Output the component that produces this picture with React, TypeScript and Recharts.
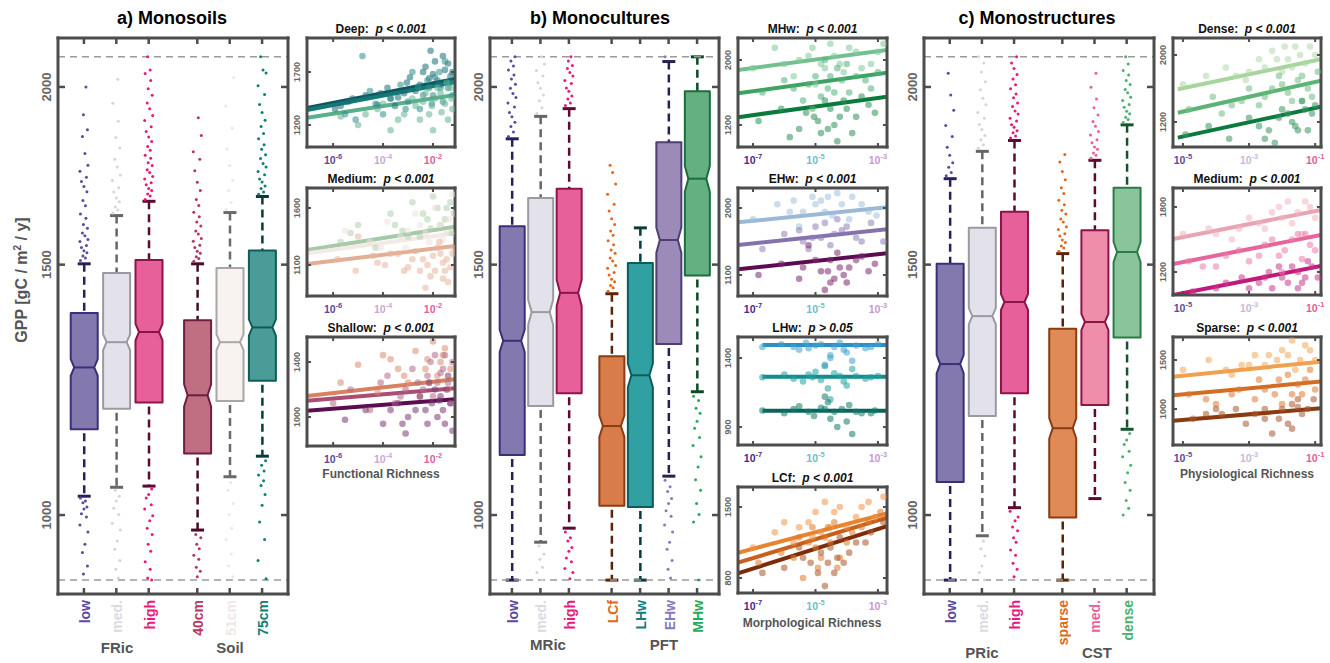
import React from "react";
import { ComposedChart, Bar, Scatter, Line, XAxis, YAxis, ReferenceLine } from "recharts";

const FONT = "'Liberation Sans', Arial, Helvetica, sans-serif";
const FRAME = "#4d4d4d";
const TXT = "#555";
const PAGE_W = 1330;
const PAGE_H = 663;
const PLOT_TOP = 38;
const PLOT_BOTTOM = 594;
const GPP_DOMAIN: [number, number] = [880, 2165];
const GPP_TICKS = [1000, 1500, 2000];
const CUTOFFS = [900, 2100];
const SLOTS = [1, 2, 3, 4.5, 5.5, 6.5, 7.5];
const JITTER = [-3.5, 1.5, -1, 3, 0, -2.5, 2.5, -4, 4, 1, -1.5, 3.5, -0.5, 2];

// ---------- a) Monosoils ----------
const soilCats = ["low", "med.", "high", "40cm", "51cm", "75cm"];
const soilWhiskerLo = [1031, 1046, 1048, 976, 1064, 1100];
const soilQ1 = [1149, 1188, 1200, 1105, 1203, 1243];
const soilMedian = [1270, 1323, 1345, 1214, 1323, 1355];
const soilQ3 = [1387, 1480, 1511, 1371, 1492, 1535];
const soilWhiskerHi = [1502, 1624, 1662, 1502, 1632, 1675];
const soilNotch = [17, 17, 18, 22, 17, 18];
const soilOutliers = [
  [1510, 1516, 1521, 1529, 1534, 1542, 1547, 1557, 1562, 1572, 1579, 1591, 1601, 1617, 1628, 1650, 1664, 1688, 1702, 1716, 1728, 1745, 1762, 1796, 1846, 1866, 1912, 2000,
    1028, 1023, 1020, 1013, 1010, 1002, 997, 984, 973, 954, 941, 921, 909],
  [1631, 1639, 1647, 1661, 1671, 1687, 1699, 1719, 1734, 1757, 1779, 1812, 1843, 1892, 1948, 2025,
    1041, 1031, 1023, 1011, 1001, 987, 976, 959, 946, 929, 916, 903],
  [1667, 1676, 1682, 1691, 1697, 1707, 1713, 1723, 1730, 1741, 1749, 1761, 1769, 1782, 1791, 1805, 1816, 1831, 1844, 1861, 1875, 1894, 1910, 1931, 1949, 1973, 1994, 2021, 2044, 2056, 2100,
    1043, 1034, 1028, 1017, 1010, 999, 991, 979, 969, 954, 943, 927, 916, 903, 900],
  [1508, 1515, 1519, 1528, 1533, 1542, 1548, 1558, 1565, 1576, 1584, 1597, 1607, 1621, 1633, 1651, 1667, 1691, 1714, 1746, 1779, 1801, 1849, 1903,
    969, 964, 954, 947, 937, 931, 919, 913, 905],
  [1641, 1659, 1691, 1719, 1761, 1809, 1871, 1939, 2031, 1054, 1041, 1019, 1001, 979, 961, 939, 921, 905],
  [1681, 1687, 1697, 1704, 1715, 1723, 1735, 1744, 1757, 1767, 1781, 1792, 1808, 1821, 1839, 1855, 1876, 1895, 1919, 1944, 1976, 2004, 2046, 2056, 2100,
    1092, 1084, 1074, 1067, 1057, 1049, 1034, 1016, 989, 961, 929, 902],
];

// ---------- b) Monocultures ----------
const cultCats = ["low", "med.", "high", "LCf", "LHw", "EHw", "MHw"];
const cultWhiskerLo = [900, 957, 979, 900, 900, 1065, 1221];
const cultQ1 = [1102, 1193, 1218, 1015, 1013, 1319, 1474];
const cultMedian = [1326, 1389, 1433, 1155, 1254, 1561, 1724];
const cultQ3 = [1596, 1671, 1696, 1293, 1504, 1829, 1986];
const cultWhiskerHi = [1839, 1907, 1931, 1431, 1592, 2084, 2100];
const cultNotch = [24, 28, 30, 20, 24, 32, 36];
const cultOutliers = [
  [1846, 1859, 1876, 1889, 1906, 1919, 1936, 1949, 1966, 1979, 1996, 2009, 2026, 2039, 2056, 2069, 2086, 2100],
  [1916, 1934, 1956, 1974, 1996, 2014, 2036, 2054, 2076, 2100, 951, 939, 931, 919, 911, 900],
  [1941, 1949, 1961, 1971, 1986, 1997, 2011, 2021, 2036, 2047, 2061, 2071, 2086, 2100, 973, 964, 959, 949, 943, 933, 927, 917, 911, 902],
  [1437, 1445, 1450, 1459, 1465, 1475, 1481, 1491, 1498, 1509, 1516, 1528, 1536, 1549, 1559, 1573, 1584, 1601, 1616, 1636, 1654, 1681, 1709, 1741, 1762],
  [],
  [1058, 1047, 1039, 1027, 1019, 1007, 998, 984, 973, 957, 946, 929, 916, 903, 2100],
  [1212, 1204, 1189, 1179, 1164, 1151, 1134, 1119, 1099, 1081, 1059, 1041, 1019, 1001, 989, 900],
];

// ---------- c) Monostructures ----------
const structCats = ["low", "med.", "high", "sparse", "med.", "dense"];
const structWhiskerLo = [900, 967, 1012, 900, 1027, 1149];
const structQ1 = [1055, 1174, 1218, 996, 1195, 1333];
const structMedian = [1277, 1380, 1412, 1151, 1367, 1531];
const structQ3 = [1502, 1592, 1634, 1352, 1586, 1699];
const structWhiskerHi = [1724, 1802, 1834, 1527, 1776, 1881];
const structNotch = [19, 18, 18, 19, 18, 25];
const structOutliers = [
  [1732, 1741, 1756, 1769, 1791, 1814, 1846, 1879, 1926, 1974, 2045],
  [1811, 1821, 1836, 1849, 1867, 1882, 1901, 1919, 1943, 1964, 1991, 2017, 2049, 2079, 2100, 959, 947, 936, 921, 911, 900],
  [1841, 1847, 1857, 1863, 1874, 1881, 1893, 1901, 1914, 1924, 1938, 1949, 1965, 1977, 1994, 2007, 2026, 2041, 2061, 2079, 2100,
    1006, 997, 991, 981, 975, 964, 957, 945, 937, 925, 916, 905],
  [1533, 1541, 1546, 1555, 1561, 1571, 1577, 1588, 1595, 1607, 1615, 1628, 1638, 1653, 1665, 1683, 1699, 1721, 1744, 1771, 1793],
  [1782, 1791, 1797, 1808, 1815, 1827, 1836, 1850, 1861, 1877, 1891, 1911, 1934, 1961, 1999, 2045],
  [1888, 1897, 1904, 1915, 1923, 1935, 1944, 1957, 1967, 1981, 1992, 2008, 2021, 2039, 2054, 2076, 2100,
    1141, 1129, 1121, 1109, 1099, 1084, 1071, 1054, 1041, 1024, 1011, 1000],
];

// ---------- small scatter panels: [richness, GPP] ----------
const deepDark = [[1.2e-6, 1350], [4e-6, 1420], [2e-5, 1480], [6e-5, 1390], [1.5e-4, 1550], [4e-4, 1460], [9e-4, 1600], [2e-3, 1520], [4e-3, 1700], [7e-3, 1640], [1.2e-2, 1800], [2e-2, 1580], [3e-2, 1720], [5e-2, 1660], [8e-3, 1900], [3e-4, 1380],
  [5e-3, 1750], [1e-2, 1680], [1.5e-2, 1620], [2.5e-2, 1850], [4e-2, 1780], [6e-2, 1700], [7e-4, 1500], [1.2e-3, 1650], [3e-3, 1580], [2e-4, 1450], [8e-5, 1500], [6e-6, 1450], [2e-6, 1380]];
const deepTeal = [[8e-6, 1250], [3e-5, 1520], [1e-4, 1300], [5e-4, 1580], [1e-3, 1420], [3e-3, 1350], [6e-3, 1620], [1e-2, 1480], [1.8e-2, 1700], [2.5e-2, 1420], [4e-2, 1550], [1.5e-5, 1850], [6e-2, 1480], [2.5e-3, 1560],
  [4e-3, 1480], [7e-3, 1550], [1.2e-2, 1650], [2e-2, 1550], [3e-2, 1800], [5e-2, 1600], [8e-4, 1350], [2e-4, 1450], [5e-5, 1400], [3e-6, 1300], [1.5e-3, 1700], [9e-3, 1400]];
const deepGreen = [[2e-6, 1280], [1e-5, 1200], [6e-5, 1350], [2e-4, 1150], [7e-4, 1300], [1.5e-3, 1450], [3e-3, 1250], [5e-3, 1500], [9e-3, 1380], [1.5e-2, 1550], [2.2e-2, 1320], [3.5e-2, 1600], [5.5e-2, 1450], [4e-2, 1250],
  [2e-3, 1380], [4e-3, 1420], [7e-3, 1300], [1.2e-2, 1450], [2e-2, 1500], [3e-2, 1400], [6e-2, 1350], [4e-4, 1250], [1e-4, 1400], [2e-5, 1300], [1e-2, 1150], [5e-2, 1550]];
const deepFits = [[1361, 1634], [1342, 1606], [1267, 1483]];

const mediumGreen = [[2e-6, 1300], [1e-5, 1450], [5e-5, 1250], [2e-4, 1550], [6e-4, 1400], [1.5e-3, 1650], [3e-3, 1350], [6e-3, 1500], [1e-2, 1700], [2e-2, 1450], [3.5e-2, 1600], [5.5e-2, 1380],
  [4e-3, 1550], [8e-3, 1420], [1.5e-2, 1600], [3e-2, 1500], [5e-2, 1650], [7e-2, 1550], [1e-3, 1350], [3e-4, 1450], [5e-6, 1380]];
const mediumWhite = [[3e-6, 1400], [3e-5, 1300], [1.5e-4, 1480], [8e-4, 1250], [2e-3, 1550], [5e-3, 1380], [1.2e-2, 1600], [2.5e-2, 1320], [4.5e-2, 1500], [6e-2, 1720],
  [1e-3, 1400], [3e-3, 1450], [7e-3, 1300], [1.8e-2, 1450], [3.5e-2, 1380], [5e-4, 1350], [8e-5, 1250]];
const mediumSalmon = [[1.5e-6, 1150], [8e-6, 1050], [4e-5, 1180], [1.2e-4, 1100], [4e-4, 1200], [1e-3, 1080], [2e-3, 1220], [4e-3, 1150], [8e-3, 1000], [1.5e-2, 1250], [2.5e-2, 1120], [4e-2, 950], [6e-2, 1200], [5e-3, 900], [1e-5, 1350], [3e-2, 1050],
  [6e-3, 1100], [1e-2, 1180], [1.2e-2, 1050], [2e-2, 1200], [3.5e-2, 1150], [5e-2, 1080], [7e-2, 1250], [3e-3, 1050], [1.5e-3, 1150], [7e-4, 1050], [2e-4, 1200], [6e-5, 1120], [2.5e-2, 980], [1.8e-2, 1300]];
const mediumFits = [[1231, 1436], [1202, 1378], [1108, 1266]];

const shallowOrange = [[2e-6, 1250], [1e-5, 1380], [6e-5, 1180], [2e-4, 1420], [7e-4, 1300], [2e-3, 1480], [5e-3, 1350], [1e-2, 1550], [2e-2, 1400], [4e-2, 1200], [3e-3, 1150], [3e-2, 1500],
  [6e-3, 1420], [1.5e-2, 1300], [2.5e-2, 1450], [5e-2, 1350], [1e-3, 1250], [4e-4, 1350], [1e-4, 1450], [7e-3, 1250]];
const shallowMauve = [[1e-6, 1100], [5e-6, 1200], [3e-5, 1050], [1.5e-4, 1300], [5e-4, 1150], [1.5e-3, 1350], [4e-3, 1200], [8e-3, 1400], [1.5e-2, 1250], [3e-2, 1450], [5e-2, 1100], [2e-2, 1320],
  [6e-3, 1300], [1e-2, 1150], [2.5e-2, 1350], [4e-2, 1250], [6e-2, 1400], [2.5e-3, 1250], [8e-4, 1200], [3e-4, 1100], [8e-5, 1250], [1.2e-2, 1450]];
const shallowPurple = [[3e-6, 980], [2e-5, 1050], [1e-4, 950], [4e-4, 1100], [1e-3, 1000], [3e-3, 1150], [6e-3, 950], [1.2e-2, 1200], [2.5e-2, 1050], [4e-2, 1300], [6e-2, 900], [8e-4, 880], [1.8e-2, 1120],
  [5e-3, 1050], [9e-3, 1100], [1.5e-2, 1000], [2e-2, 1150], [3e-2, 950], [5e-2, 1100], [2e-3, 1050], [6e-4, 950], [2e-4, 1050], [7e-3, 1250], [3.5e-2, 1200]];
const shallowFits = [[1153, 1275], [1119, 1209], [1046, 1129]];

const mhwLight = [[1e-7, 1900], [5e-7, 2150], [2e-6, 1800], [6e-6, 2050], [1.5e-5, 1950], [3e-5, 2200], [8e-5, 1850], [2e-4, 2100], [6e-4, 1950], [1.5e-3, 2200], [1e-5, 1700],
  [3e-6, 2000], [8e-6, 2150], [2e-5, 1900], [4e-5, 2050], [6e-5, 1950], [1.2e-4, 2150], [3e-4, 1900], [1e-6, 1950], [1e-3, 2100]];
const mhwMid = [[2e-7, 1600], [1e-6, 1750], [4e-6, 1500], [1e-5, 1800], [2.5e-5, 1650], [5e-5, 1900], [1.2e-4, 1600], [4e-4, 1750], [1e-3, 1850], [8e-6, 1400], [2e-5, 2000],
  [6e-6, 1700], [1.5e-5, 1550], [3e-5, 1800], [4e-5, 1600], [7e-5, 1750], [2e-4, 1800], [6e-4, 1650], [2e-6, 1650], [1e-4, 1950]];
const mhwDark = [[1.5e-7, 1250], [8e-7, 1400], [3e-6, 1150], [9e-6, 1300], [2e-5, 1500], [4e-5, 1200], [1e-4, 1400], [3e-4, 1550], [8e-4, 1350], [1.5e-6, 1050], [5e-5, 1000], [1.5e-5, 1100],
  [5e-6, 1350], [1.2e-5, 1250], [3e-5, 1400], [6e-5, 1300], [8e-5, 1500], [2e-4, 1300], [5e-4, 1450], [2.5e-5, 1150], [1.5e-4, 1100]];
const mhwFits = [[1877, 2123], [1591, 1844], [1296, 1549]];

const ehwBlue = [[1e-7, 1850], [6e-7, 2050], [3e-6, 1750], [8e-6, 2150], [2e-5, 1950], [5e-5, 2200], [1.2e-4, 1850], [3e-4, 2050], [9e-4, 1900], [1.5e-6, 1950], [1.5e-5, 2100],
  [4e-6, 1950], [1e-5, 2050], [2.5e-5, 2150], [3.5e-5, 1900], [7e-5, 2050], [1.5e-4, 2150], [5e-4, 1950], [2e-6, 2100]];
const ehwPurple = [[2e-7, 1450], [1e-6, 1650], [4e-6, 1550], [1e-5, 1750], [3e-5, 1500], [7e-5, 1700], [2e-4, 1600], [6e-4, 1800], [1.5e-3, 1550], [1.5e-5, 1600],
  [3e-6, 1700], [8e-6, 1600], [2e-5, 1800], [4e-5, 1650], [1e-4, 1750], [3e-4, 1550], [6e-6, 1450], [5e-5, 1850]];
const ehwDark = [[1.5e-7, 1100], [8e-7, 1250], [3e-6, 1050], [1e-5, 1300], [2.5e-5, 1150], [5e-5, 1400], [1.2e-4, 1200], [3e-4, 1350], [8e-4, 1250], [2e-5, 900], [6e-6, 1500], [4e-5, 1050],
  [4e-6, 1200], [1.5e-5, 1150], [3e-5, 1300], [6e-5, 1200], [8e-5, 1100], [2e-4, 1300], [1e-4, 1000], [3e-5, 1000], [5e-4, 1150]];
const ehwFits = [[1808, 2010], [1504, 1714], [1177, 1392]];

const lhwBlue = [[2e-7, 1480], [8e-7, 1500], [3e-6, 1460], [1e-5, 1490], [3e-5, 1420], [6e-5, 1510], [1.5e-4, 1380], [4e-4, 1470], [1e-3, 1500], [2e-5, 1350], [5e-6, 1510],
  [2e-6, 1480], [6e-6, 1470], [1.5e-5, 1500], [4e-5, 1480], [8e-5, 1460], [2e-4, 1490], [6e-4, 1480], [3e-5, 1400], [1e-4, 1440]];
const lhwTeal = [[2e-7, 1260], [1e-6, 1280], [4e-6, 1230], [1e-5, 1300], [2.5e-5, 1180], [6e-5, 1270], [1.5e-4, 1320], [4e-4, 1250], [1e-3, 1270], [3e-5, 1100], [8e-6, 1260],
  [2e-6, 1250], [6e-6, 1280], [1.5e-5, 1240], [4e-5, 1290], [8e-5, 1230], [2e-4, 1270], [6e-4, 1260], [2e-5, 1340], [1e-4, 1200]];
const lhwDark = [[2e-7, 1020], [1e-6, 1000], [3e-6, 1050], [9e-6, 980], [2e-5, 1030], [5e-5, 900], [1.2e-4, 1060], [3e-4, 1000], [8e-4, 1020], [1.5e-4, 850], [2e-5, 1120], [4e-5, 1010],
  [2e-6, 1030], [6e-6, 1010], [1.5e-5, 1040], [3e-5, 960], [7e-5, 1030], [2e-4, 1010], [6e-4, 1000], [1e-4, 940], [2.5e-5, 1080]];
const lhwFits = [[1494, 1494], [1264, 1264], [1018, 1018]];

const lcfLight = [[1e-7, 1100], [5e-7, 1250], [2e-6, 1150], [6e-6, 1350], [1.5e-5, 1250], [4e-5, 1450], [1e-4, 1300], [3e-4, 1500], [8e-4, 1400], [1.5e-3, 1600], [2e-5, 1550],
  [3e-6, 1300], [8e-6, 1200], [1e-5, 1450], [3e-5, 1300], [6e-5, 1500], [2e-4, 1400], [5e-4, 1550], [1e-6, 1350]];
const lcfOrange = [[1.5e-7, 950], [8e-7, 1050], [3e-6, 1200], [1e-5, 1100], [2.5e-5, 1300], [6e-5, 1000], [1.5e-4, 1250], [5e-4, 1350], [1.2e-3, 1450], [4e-6, 800], [3e-5, 1150],
  [2e-6, 1000], [6e-6, 1150], [8e-6, 1300], [1.5e-5, 1000], [2e-5, 1200], [4e-5, 1350], [1e-4, 1150], [3e-4, 1300], [5e-5, 900], [1.2e-5, 900]];
const lcfBrown = [[2e-7, 850], [1e-6, 900], [4e-6, 1000], [1.2e-5, 850], [3e-5, 1100], [8e-5, 950], [2e-4, 1150], [6e-4, 1250], [1.5e-3, 1350], [2e-5, 720], [5e-5, 1000],
  [3e-6, 1100], [7e-6, 950], [1.5e-5, 1050], [4e-5, 850], [6e-5, 1200], [1.2e-4, 1050], [4e-4, 1150], [2.5e-5, 950]];
const lcfFits = [[1049, 1437], [951, 1394], [846, 1312]];

const denseLight = [[1e-5, 1650], [5e-5, 1750], [2e-4, 1850], [8e-4, 1700], [2e-3, 1950], [5e-3, 2050], [1e-2, 1800], [2.5e-2, 2100], [5e-2, 1900], [1e-1, 2000], [1.5e-2, 1950],
  [3e-3, 1850], [7e-3, 1950], [1.2e-2, 2100], [2e-2, 1850], [3.5e-2, 2000], [7e-2, 2100], [1e-3, 1800], [4e-4, 1750]];
const denseMid = [[1.5e-5, 1350], [8e-5, 1500], [3e-4, 1400], [1e-3, 1600], [3e-3, 1500], [8e-3, 1750], [1.5e-2, 1550], [3e-2, 1700], [6e-2, 1600], [1.2e-1, 1800], [4e-2, 1450],
  [2e-3, 1400], [5e-3, 1600], [1e-2, 1650], [2e-2, 1450], [4e-2, 1750], [8e-2, 1500], [6e-4, 1450], [1.5e-4, 1300]];
const denseDark = [[1.2e-5, 1050], [6e-5, 1150], [2.5e-4, 1000], [1e-3, 1250], [4e-3, 1100], [1e-2, 1350], [2e-2, 1200], [4e-2, 1450], [8e-2, 1300], [6e-3, 950], [3e-2, 1100],
  [2e-3, 1150], [8e-3, 1250], [1.5e-2, 1300], [2.5e-2, 1150], [5e-2, 1350], [1e-1, 1400], [3e-3, 1000], [6e-2, 1100]];
const denseFits = [[1590, 1949], [1311, 1694], [1013, 1383]];

const mediumPinkLight = [[1e-5, 1550], [6e-5, 1600], [3e-4, 1500], [1e-3, 1700], [3e-3, 1600], [8e-3, 1800], [2e-2, 1650], [5e-2, 1850], [1e-1, 1700], [4e-2, 1550],
  [5e-3, 1750], [1e-2, 1700], [1.5e-2, 1850], [3e-2, 1750], [7e-2, 1800], [2e-3, 1650], [5e-4, 1600], [1e-4, 1550]];
const mediumPink = [[1.5e-5, 1300], [1e-4, 1250], [5e-4, 1400], [2e-3, 1350], [5e-3, 1500], [1.2e-2, 1400], [3e-2, 1550], [7e-2, 1450], [1e-2, 1200], [4e-2, 1320],
  [3e-3, 1450], [8e-3, 1350], [2e-2, 1500], [5e-2, 1550], [1e-1, 1400], [1e-3, 1300], [2e-4, 1350], [4e-5, 1250]];
const mediumMagenta = [[2e-5, 1020], [2e-4, 1100], [1e-3, 1050], [3e-3, 1150], [8e-3, 1250], [1.5e-2, 1100], [3e-2, 1200], [6e-2, 1300], [1.2e-1, 1150], [5e-3, 1050], [4e-2, 1100],
  [4e-3, 1200], [1e-2, 1150], [2e-2, 1250], [5e-2, 1150], [8e-2, 1250], [2e-3, 1100], [6e-4, 1150], [1e-4, 1050], [3e-2, 1050]];
const mediumPinkFits = [[1504, 1772], [1274, 1541], [988, 1255]];

const sparseLight = [[1e-5, 1400], [6e-5, 1500], [3e-4, 1350], [1e-3, 1450], [4e-3, 1550], [1e-2, 1600], [2.5e-2, 1400], [5e-2, 1650], [1e-1, 1500], [2e-2, 1700],
  [3e-3, 1450], [7e-3, 1500], [1.5e-2, 1550], [3.5e-2, 1500], [7e-2, 1600], [1.5e-3, 1550], [6e-4, 1450], [2e-4, 1400]];
const sparseMid = [[1.5e-5, 1150], [1e-4, 1050], [5e-4, 1200], [2e-3, 1300], [6e-3, 1150], [1.5e-2, 1350], [3e-2, 1250], [7e-2, 1400], [1e-2, 1050], [4e-2, 1150],
  [3e-3, 1200], [8e-3, 1300], [2e-2, 1150], [5e-2, 1300], [1e-1, 1200], [1.5e-3, 1100], [3e-4, 1150], [5e-5, 1100]];
const sparseDark = [[2e-5, 900], [1.5e-4, 950], [8e-4, 850], [3e-3, 1000], [8e-3, 900], [2e-2, 1050], [4e-2, 950], [9e-2, 1100], [5e-3, 750], [1e-4, 1000], [3e-2, 1020],
  [3e-3, 900], [1e-2, 1000], [1.5e-2, 850], [3e-2, 1100], [6e-2, 1000], [1.5e-3, 950], [4e-4, 1000], [5e-5, 950], [2e-2, 800]];
const sparseFits = [[1330, 1483], [1140, 1280], [881, 1008]];

// ---------- colours ----------
type BoxStyle = { fill: string; edge: string; whisker: string; dot: string; label: string };
const RIC_STYLES: BoxStyle[] = [
  { fill: "#8479ae", edge: "#3c2f78", whisker: "#2a2058", dot: "#5b4aa0", label: "#5b4aa0" },
  { fill: "#e3e1ea", edge: "#9a9aa2", whisker: "#666666", dot: "#d6d2e2", label: "#dcd8e4" },
  { fill: "#e8609a", edge: "#8c1448", whisker: "#5c0a32", dot: "#e8197e", label: "#e8197e" },
];
const SOIL_STYLES: BoxStyle[] = [
  ...RIC_STYLES,
  { fill: "#c06e82", edge: "#6e1e40", whisker: "#4a0a28", dot: "#b83462", label: "#b83462" },
  { fill: "#f8f3f1", edge: "#a8a6a6", whisker: "#6a6a6a", dot: "#f0e6e4", label: "#f3e6e6" },
  { fill: "#4a9c98", edge: "#0f5c58", whisker: "#0a3c38", dot: "#0f7e74", label: "#0f7e74" },
];
const CULT_STYLES: BoxStyle[] = [
  ...RIC_STYLES,
  { fill: "#d87c4a", edge: "#8a3c12", whisker: "#5a2408", dot: "#e06820", label: "#e06820" },
  { fill: "#30a0a2", edge: "#0d5c5a", whisker: "#0a3c3a", dot: "#108080", label: "#108080" },
  { fill: "#9c8ab8", edge: "#4e3e74", whisker: "#2a2050", dot: "#8a78bc", label: "#8a78bc" },
  { fill: "#64b080", edge: "#1c6c3c", whisker: "#0c4c24", dot: "#2aa85a", label: "#2aa85a" },
];
const STRUCT_STYLES: BoxStyle[] = [
  ...RIC_STYLES,
  { fill: "#e08a58", edge: "#8a3c12", whisker: "#5a2408", dot: "#e06820", label: "#e06820" },
  { fill: "#ee8eaa", edge: "#8c1448", whisker: "#5c0a32", dot: "#e8609a", label: "#e8609a" },
  { fill: "#8ac49a", edge: "#2c7a48", whisker: "#14542c", dot: "#4cb070", label: "#4cb070" },
];

const axisLine = { stroke: FRAME, strokeWidth: 3, strokeLinecap: "square" as const };

type PanelProps = {
  left: number; width: number; plotLeft: number; plotRight: number; domainX: [number, number]; boxW: number;
  cats: string[]; lo: number[]; q1: number[]; med: number[]; q3: number[]; hi: number[]; notch: number[];
  outliers: number[][]; styles: BoxStyle[];
};

function BoxPanel(props: PanelProps) {
  const { left, width, plotLeft, plotRight, domainX, boxW, cats, lo, q1, med, q3, hi, notch, outliers, styles } = props;
  const pos = SLOTS.slice(0, cats.length);
  const rows = cats.map((c, i) => ({ pos: pos[i], name: c, range: [lo[i], hi[i]] }));
  const yW = 40;
  const xH = 60;

  const boxShape = (p: any) => {
    const ppos = p.payload ? p.payload.pos : p.pos;
    const i = pos.indexOf(ppos);
    if (i < 0) return <g />;
    const s = styles[i];
    const top = Math.min(p.y, p.y + p.height);
    const h = Math.abs(p.height);
    const lHi = Math.log(hi[i]);
    const lLo = Math.log(lo[i]);
    const py = (v: number) => top + (h * (lHi - Math.log(v))) / (lHi - lLo);
    const cx = p.x + p.width / 2;
    const x0 = p.x;
    const x1 = p.x + p.width;
    const yq3 = py(q3[i]);
    const yq1 = py(q1[i]);
    const ym = py(med[i]);
    const yn1 = Math.max(yq3, py(med[i] + notch[i]));
    const yn2 = Math.min(yq1, py(med[i] - notch[i]));
    const d = 3.5;
    const pts = [[x0, yq3], [x1, yq3], [x1, yn1], [x1 - d, ym], [x1, yn2], [x1, yq1], [x0, yq1], [x0, yn2], [x0 + d, ym], [x0, yn1]]
      .map((q) => q.join(","))
      .join(" ");
    return (
      <g>
        <line x1={cx} x2={cx} y1={top} y2={yq3} stroke={s.whisker} strokeWidth={2.5} strokeDasharray="8 5" />
        <line x1={cx} x2={cx} y1={yq1 + 4} y2={top + h} stroke={s.whisker} strokeWidth={2.5} strokeDasharray="8 5" />
        <line x1={cx - 6.5} x2={cx + 6.5} y1={top} y2={top} stroke={s.whisker} strokeWidth={3} />
        <line x1={cx - 6.5} x2={cx + 6.5} y1={top + h} y2={top + h} stroke={s.whisker} strokeWidth={3} />
        <polygon points={pts} fill={s.fill} stroke={s.edge} strokeWidth={2} strokeLinejoin="round" />
        <line x1={x0 + d} x2={x1 - d} y1={ym} y2={ym} stroke={s.edge} strokeWidth={2} />
      </g>
    );
  };

  const bottomTick = (p: any) => {
    const i = pos.indexOf(p.payload.value);
    const tx = p.x + 6;
    const ty = p.y + 6;
    return (
      <g>
        <line x1={p.x} x2={p.x} y1={p.y} y2={p.y - 6} stroke={FRAME} strokeWidth={2.5} />
        <text x={tx} y={ty} transform={`rotate(-90 ${tx} ${ty})`} textAnchor="end" fontSize={14} fontWeight={700}
          fontFamily={FONT} fill={i >= 0 ? styles[i].label : TXT}>
          {i >= 0 ? cats[i] : ""}
        </text>
      </g>
    );
  };
  const topTick = (p: any) => <line x1={p.x} x2={p.x} y1={p.y} y2={p.y + 6} stroke={FRAME} strokeWidth={2.5} />;
  const leftTick = (p: any) => {
    const tx = p.x - 7;
    return (
      <g>
        <line x1={p.x} x2={p.x + 7} y1={p.y} y2={p.y} stroke={FRAME} strokeWidth={2.5} />
        <text x={tx} y={p.y} transform={`rotate(-90 ${tx} ${p.y})`} textAnchor="middle" fontSize={13} fontWeight={700}
          fontFamily={FONT} fill="#666">
          {p.payload.value}
        </text>
      </g>
    );
  };
  const rightTick = (p: any) => <line x1={p.x} x2={p.x - 7} y1={p.y} y2={p.y} stroke={FRAME} strokeWidth={2.5} />;

  return (
    <div style={{ position: "absolute", left, top: 0 }}>
      <ComposedChart
        width={width}
        height={PAGE_H}
        data={rows}
        margin={{ top: PLOT_TOP - 2, right: left + width - plotRight - 4, bottom: PAGE_H - PLOT_BOTTOM - xH, left: plotLeft - left - yW }}
      >
        <XAxis xAxisId="x" type="number" dataKey="pos" domain={domainX} ticks={pos} interval={0} allowDataOverflow
          height={xH} tickSize={0} tickMargin={0} tickLine={false} axisLine={axisLine} tick={bottomTick} />
        <XAxis xAxisId="xt" orientation="top" type="number" dataKey="pos" domain={domainX} ticks={pos} interval={0}
          allowDataOverflow height={2} tickSize={0} tickMargin={0} tickLine={false} axisLine={axisLine} tick={topTick} />
        <YAxis yAxisId="y" type="number" scale="log" domain={GPP_DOMAIN} ticks={GPP_TICKS} interval={0} allowDataOverflow
          width={yW} tickSize={0} tickMargin={0} tickLine={false} axisLine={axisLine} tick={leftTick} />
        <YAxis yAxisId="yr" orientation="right" type="number" scale="log" domain={GPP_DOMAIN} ticks={GPP_TICKS} interval={0}
          allowDataOverflow width={4} tickSize={0} tickMargin={0} tickLine={false} axisLine={axisLine} tick={rightTick} />
        {CUTOFFS.map((c) => (
          <ReferenceLine key={c} xAxisId="x" yAxisId="y" y={c} stroke="#9a9a9a" strokeWidth={1.5} strokeDasharray="7 5" />
        ))}
        <Bar xAxisId="x" yAxisId="y" dataKey="range" barSize={boxW} shape={boxShape} isAnimationActive={false} />
        {outliers.map((vals, i) =>
          vals.length ? (
            <Scatter
              key={i}
              xAxisId="x"
              yAxisId="y"
              data={vals.map((v, k) => ({ pos: pos[i], v, k }))}
              dataKey="v"
              isAnimationActive={false}
              shape={(p: any) => (
                <circle cx={p.cx + JITTER[p.payload.k % JITTER.length]} cy={p.cy} r={1.5} fill={styles[i].dot} />
              )}
            />
          ) : null
        )}
      </ComposedChart>
    </div>
  );
}

type MiniProps = {
  x: number; y: number; w: number; h: number; title: string; p: string;
  xDomain: [number, number]; xTicks: number[]; xTickColors: string[]; fitX: [number, number];
  yDomain: [number, number]; yTicks: number[];
  clouds: number[][][]; cloudColors: string[]; fits: number[][]; lineColors: string[];
};

function MiniPlot(m: MiniProps) {
  const W = m.w + 30;
  const H = m.h + 24;
  const bottomTick = (p: any) => {
    const i = m.xTicks.indexOf(p.payload.value);
    const e = Math.round(Math.log10(p.payload.value));
    return (
      <g>
        <line x1={p.x} x2={p.x} y1={p.y} y2={p.y - 4} stroke={FRAME} strokeWidth={2} />
        <text x={p.x} y={p.y + 17} textAnchor="middle" fontSize={10.5} fontWeight={700} fontFamily={FONT} fill={m.xTickColors[i]}>
          10<tspan fontSize={7.5} dy={-5}>{e}</tspan>
        </text>
      </g>
    );
  };
  const topTick = (p: any) => <line x1={p.x} x2={p.x} y1={p.y} y2={p.y + 4} stroke={FRAME} strokeWidth={2} />;
  const leftTick = (p: any) => {
    const tx = p.x - 7;
    return (
      <g>
        <line x1={p.x} x2={p.x + 4} y1={p.y} y2={p.y} stroke={FRAME} strokeWidth={2} />
        <text x={tx} y={p.y} transform={`rotate(-90 ${tx} ${p.y})`} textAnchor="middle" fontSize={9} fontWeight={700}
          fontFamily={FONT} fill="#666">
          {p.payload.value}
        </text>
      </g>
    );
  };
  const rightTick = (p: any) => <line x1={p.x} x2={p.x - 4} y1={p.y} y2={p.y} stroke={FRAME} strokeWidth={2} />;

  return (
    <>
      <div style={{ position: "absolute", left: m.x - 22, top: m.y - 2 }}>
        <ComposedChart width={W} height={H} margin={{ top: 0, right: 6, bottom: 2, left: 0 }}>
          <XAxis xAxisId="x" type="number" scale="log" dataKey="x" domain={m.xDomain} ticks={m.xTicks} interval={0} allowDataOverflow
            height={20} tickSize={0} tickMargin={0} tickLine={false} axisLine={axisLine} tick={bottomTick} />
          <XAxis xAxisId="xt" orientation="top" type="number" scale="log" dataKey="x" domain={m.xDomain} ticks={m.xTicks} interval={0}
            allowDataOverflow height={2} tickSize={0} tickMargin={0} tickLine={false} axisLine={axisLine} tick={topTick} />
          <YAxis yAxisId="y" type="number" domain={m.yDomain} ticks={m.yTicks} interval={0} allowDataOverflow width={22}
            tickSize={0} tickMargin={0} tickLine={false} axisLine={axisLine} tick={leftTick} />
          <YAxis yAxisId="yr" orientation="right" type="number" domain={m.yDomain} ticks={m.yTicks} interval={0} allowDataOverflow
            width={2} tickSize={0} tickMargin={0} tickLine={false} axisLine={axisLine} tick={rightTick} />
          {m.clouds.map((pts, k) => (
            <Scatter
              key={"c" + k}
              xAxisId="x"
              yAxisId="y"
              data={pts.map(([px, py]) => ({ x: px, y: py }))}
              dataKey="y"
              isAnimationActive={false}
              shape={(p: any) => <circle cx={p.cx} cy={p.cy} r={3.3} fill={m.cloudColors[k]} fillOpacity={0.55} />}
            />
          ))}
          {m.fits.map((f, k) => (
            <Line
              key={"f" + k}
              xAxisId="x"
              yAxisId="y"
              data={[{ x: m.fitX[0], y: f[0] }, { x: m.fitX[1], y: f[1] }]}
              dataKey="y"
              stroke={m.lineColors[k]}
              strokeWidth={4}
              dot={false}
              isAnimationActive={false}
            />
          ))}
        </ComposedChart>
      </div>
      <div style={{ position: "absolute", left: m.x + m.w / 2 - 90, width: 180, top: m.y - 16, lineHeight: "14px", textAlign: "center",
        fontSize: 12, fontWeight: 700, color: "#111", whiteSpace: "pre" }}>
        {m.title + "  "}<i>{m.p}</i>
      </div>
    </>
  );
}

const X_A: [number, number] = [9e-8, 0.076];
const X_B: [number, number] = [3.3e-8, 1.95e-3];
const X_C: [number, number] = [5e-6, 0.15];
const TICKS_A = [1e-6, 1e-4, 1e-2];
const TICKS_B = [1e-7, 1e-5, 1e-3];
const TICKS_C = [1e-5, 1e-3, 1e-1];
const TICKCOL_A = ["#5a4a9e", "#c9a8d8", "#e0609e"];
const TICKCOL_B = ["#4a2a8e", "#6ec0c6", "#c49ad0"];
const TICKCOL_C = ["#5a4aa2", "#cbb8dc", "#e0609e"];

const MINIS: MiniProps[] = [
  { x: 307, y: 38, w: 148, h: 109, title: "Deep:", p: "p < 0.001", xDomain: X_A, xTicks: TICKS_A, xTickColors: TICKCOL_A, fitX: X_A,
    yDomain: [992, 2021], yTicks: [1200, 1700], clouds: [deepDark, deepTeal, deepGreen], cloudColors: ["#1a6e74", "#2e8e8a", "#62b292"],
    fits: deepFits, lineColors: ["#0e5560", "#137a76", "#5aaf8c"] },
  { x: 307, y: 188, w: 148, h: 108, title: "Medium:", p: "p < 0.001", xDomain: X_A, xTicks: TICKS_A, xTickColors: TICKCOL_A, fitX: X_A,
    yDomain: [828, 1775], yTicks: [1100, 1600], clouds: [mediumGreen, mediumWhite, mediumSalmon], cloudColors: ["#b0d0b0", "#efe2de", "#e8b49c"],
    fits: mediumFits, lineColors: ["#a6c9a6", "#f3e9e5", "#e2ae95"] },
  { x: 307, y: 337, w: 148, h: 109, title: "Shallow:", p: "p < 0.001", xDomain: X_A, xTicks: TICKS_A, xTickColors: TICKCOL_A, fitX: X_A,
    yDomain: [789, 1582], yTicks: [1000, 1400], clouds: [shallowOrange, shallowMauve, shallowPurple], cloudColors: ["#dc8c70", "#b46a88", "#7a3a72"],
    fits: shallowFits, lineColors: ["#d9805f", "#a94e72", "#5c0c50"] },
  { x: 738, y: 38, w: 149, h: 109, title: "MHw:", p: "p < 0.001", xDomain: X_B, xTicks: TICKS_B, xTickColors: TICKCOL_B, fitX: X_B,
    yDomain: [929, 2271], yTicks: [1200, 2000], clouds: [mhwLight, mhwMid, mhwDark], cloudColors: ["#7ec89a", "#50b076", "#2a9055"],
    fits: mhwFits, lineColors: ["#72c08e", "#3da363", "#0a7a3c"] },
  { x: 738, y: 188, w: 149, h: 108, title: "EHw:", p: "p < 0.001", xDomain: X_B, xTicks: TICKS_B, xTickColors: TICKCOL_B, fitX: X_B,
    yDomain: [818, 2269], yTicks: [1100, 2000], clouds: [ehwBlue, ehwPurple, ehwDark], cloudColors: ["#a0c0dc", "#9080b8", "#7a2a70"],
    fits: ehwFits, lineColors: ["#9ab9d6", "#8572ad", "#5c0a52"] },
  { x: 738, y: 337, w: 149, h: 108, title: "LHw:", p: "p > 0.05", xDomain: X_B, xTicks: TICKS_B, xTickColors: TICKCOL_B, fitX: [2e-7, 1.95e-3],
    yDomain: [770, 1552], yTicks: [900, 1400], clouds: [lhwBlue, lhwTeal, lhwDark], cloudColors: ["#40a0d0", "#20a0a0", "#107a68"],
    fits: lhwFits, lineColors: ["#2a90c4", "#128c8c", "#0a6658"] },
  { x: 738, y: 487, w: 149, h: 106, title: "LCf:", p: "p < 0.001", xDomain: X_B, xTicks: TICKS_B, xTickColors: TICKCOL_B, fitX: X_B,
    yDomain: [652, 1697], yTicks: [800, 1500], clouds: [lcfLight, lcfOrange, lcfBrown], cloudColors: ["#f09448", "#e07828", "#a85428"],
    fits: lcfFits, lineColors: ["#e8842e", "#c8601c", "#7c2c0a"] },
  { x: 1173, y: 38, w: 148, h: 109, title: "Dense:", p: "p < 0.001", xDomain: X_C, xTicks: TICKS_C, xTickColors: TICKCOL_C, fitX: [7e-6, 0.15],
    yDomain: [901, 2203], yTicks: [1200, 2000], clouds: [denseLight, denseMid, denseDark], cloudColors: ["#b0d8a8", "#70bc84", "#3a9460"],
    fits: denseFits, lineColors: ["#a8d49e", "#5cb474", "#0a7a3e"] },
  { x: 1173, y: 188, w: 148, h: 107, title: "Medium:", p: "p < 0.001", xDomain: X_C, xTicks: TICKS_C, xTickColors: TICKCOL_C, fitX: X_C,
    yDomain: [988, 1975], yTicks: [1200, 1800], clouds: [mediumPinkLight, mediumPink, mediumMagenta], cloudColors: ["#f2b4be", "#ec7aa8", "#c83888"],
    fits: mediumPinkFits, lineColors: ["#e9a3b2", "#e8649c", "#c0187c"] },
  { x: 1173, y: 337, w: 148, h: 108, title: "Sparse:", p: "p < 0.001", xDomain: X_C, xTicks: TICKS_C, xTickColors: TICKCOL_C, fitX: X_C,
    yDomain: [633, 1735], yTicks: [1000, 1500], clouds: [sparseLight, sparseMid, sparseDark], cloudColors: ["#f4a658", "#dc7a34", "#a85a30"],
    fits: sparseFits, lineColors: ["#f0a04e", "#d46c22", "#8a3a0e"] },
];

function Label({ x, y, text, size, color = TXT }: { x: number; y: number; text: string; size: number; color?: string }) {
  return (
    <div style={{ position: "absolute", left: x - 120, width: 240, top: y - size * 0.6, lineHeight: `${size * 1.2}px`,
      textAlign: "center", fontSize: size, fontWeight: 700, color, whiteSpace: "nowrap" }}>
      {text}
    </div>
  );
}

export default function App() {
  return (
    <div style={{ position: "absolute", left: 0, top: 0, width: PAGE_W, height: PAGE_H, background: "#fff", fontFamily: FONT, overflow: "hidden" }}>
      <BoxPanel left={0} width={300} plotLeft={58} plotRight={288} domainX={[0.2, 7.3]} boxW={27}
        cats={soilCats} lo={soilWhiskerLo} q1={soilQ1} med={soilMedian} q3={soilQ3} hi={soilWhiskerHi} notch={soilNotch}
        outliers={soilOutliers} styles={SOIL_STYLES} />
      <BoxPanel left={450} width={285} plotLeft={490} plotRight={719} domainX={[0.23, 8.27]} boxW={25}
        cats={cultCats} lo={cultWhiskerLo} q1={cultQ1} med={cultMedian} q3={cultQ3} hi={cultWhiskerHi} notch={cultNotch}
        outliers={cultOutliers} styles={CULT_STYLES} />
      <BoxPanel left={884} width={281} plotLeft={924} plotRight={1154} domainX={[0.2, 7.35]} boxW={27}
        cats={structCats} lo={structWhiskerLo} q1={structQ1} med={structMedian} q3={structQ3} hi={structWhiskerHi} notch={structNotch}
        outliers={structOutliers} styles={STRUCT_STYLES} />

      {MINIS.map((m, i) => (
        <MiniPlot key={i} {...m} />
      ))}

      <Label x={172} y={19} text="a) Monosoils" size={18} color="#000" />
      <Label x={600} y={19} text="b) Monocultures" size={18} color="#000" />
      <Label x={1037} y={19} text="c) Monostructures" size={18} color="#000" />

      <Label x={117} y={648} text="FRic" size={15} />
      <Label x={230} y={648} text="Soil" size={15} />
      <Label x={548} y={645} text="MRic" size={15} />
      <Label x={664} y={645} text="PFT" size={15} />
      <Label x={982} y={653} text="PRic" size={15} />
      <Label x={1097} y={653} text="CST" size={15} />

      <Label x={381} y={474} text="Functional Richness" size={12} />
      <Label x={812} y={623} text="Morphological Richness" size={12} />
      <Label x={1247} y={474} text="Physiological Richness" size={12} />

      <div style={{ position: "absolute", left: 22 - 100, top: 280 - 11, width: 200, height: 22, lineHeight: "22px", textAlign: "center",
        transform: "rotate(-90deg)", fontSize: 16, fontWeight: 700, color: TXT, whiteSpace: "nowrap" }}>
        GPP [gC / m<sup style={{ fontSize: 10, lineHeight: 0 }}>2</sup> / y]
      </div>
    </div>
  );
}
